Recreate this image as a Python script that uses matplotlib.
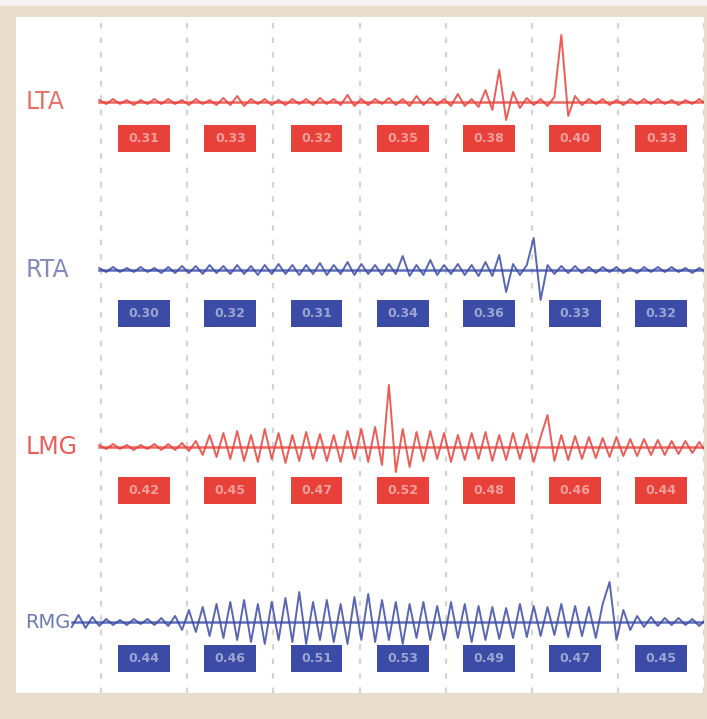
import numpy as np
import matplotlib
matplotlib.use("Agg")
import matplotlib.pyplot as plt
from matplotlib.patches import Rectangle

nan = np.nan

# muscle channels, top to bottom
channels = ["LTA", "RTA", "LMG", "RMG"]

# EMG samples (amplitude, up positive), one value every 0.08 grid cells from -0.9
lta = [nan] * 11 + [
    2, -2, 3, -2, 2, -3, 2, -2, 3, -2,
    3, -2, 2, -3, 3, -2, 2, -3, 4, -3,
    6, -4, 3, -2, 3, -3, 2, -3, 3, -2,
    3, -3, 4, -2, 3, -3, 7, -4, 3, -3,
    3, -2, 4, -3, 3, -4, 6, -3, 4, -3,
    3, -4, 8, -4, 3, -5, 12, -8, 32, -18,
    10, -6, 4, -3, 3, -4, 5, 67, -14, 6,
    -3, 3, -2, 3, -3, 2, -3, 3, -2, 3,
    -2, 3, -2, 2, -3, 2, -2, 3, -2]
rta = [nan] * 11 + [
    2, -2, 3, -2, 2, -2, 3, -2, 2, -3,
    3, -3, 4, -3, 4, -4, 5, -3, 4, -4,
    5, -4, 4, -5, 5, -4, 6, -4, 5, -5,
    5, -4, 7, -5, 5, -4, 8, -5, 6, -4,
    5, -5, 6, -4, 14, -6, 5, -5, 10, -5,
    5, -4, 6, -5, 5, -6, 8, -6, 15, -22,
    6, -5, 5, 32, -30, 5, -4, 4, -3, 4,
    -3, 3, -3, 3, -2, 3, -3, 2, -3, 3,
    -2, 3, -2, 3, -2, 2, -3, 2, -2]
lmg = [nan] * 11 + [
    2, -2, 3, -2, 2, -3, 2, -2, 3, -3,
    3, -3, 4, -4, 6, -8, 12, -10, 14, -12,
    16, -14, 12, -15, 18, -12, 14, -16, 12, -14,
    15, -12, 13, -14, 12, -15, 16, -12, 18, -15,
    20, -18, 62, -25, 18, -20, 15, -14, 16, -12,
    14, -15, 12, -13, 14, -12, 15, -14, 12, -13,
    14, -12, 13, -15, 10, 32, -14, 12, -13, 11,
    -12, 10, -11, 9, -10, 10, -9, 8, -9, 8,
    -8, 7, -8, 6, -7, 6, -6, 5, -5]
rmg = [nan] * 7 + [
    -5, 7, -6, 5,
    -4, 3, -3, 2, -3, 3, -2, 3, -3, 4,
    -4, 6, -8, 12, -10, 15, -14, 18, -16, 20,
    -18, 22, -20, 18, -22, 20, -18, 24, -20, 30,
    -22, 20, -18, 22, -20, 18, -22, 25, -18, 28,
    -20, 22, -18, 20, -22, 18, -16, 20, -18, 16,
    -18, 20, -16, 18, -20, 16, -18, 15, -17, 14,
    -16, 18, -15, 16, -14, 15, -13, 18, -15, 16,
    -14, 15, -16, 18, 40, -18, 12, -8, 6, -5,
    5, -4, 4, -3, 4, -3, 3, -4, 3]
signals = [lta, rta, lmg, rmg]

# values printed in the boxes under each trace (one per grid cell)
box_labels = [
    ["0.31", "0.33", "0.32", "0.35", "0.38", "0.40", "0.33"],
    ["0.30", "0.32", "0.31", "0.34", "0.36", "0.33", "0.32"],
    ["0.42", "0.45", "0.47", "0.52", "0.48", "0.46", "0.44"],
    ["0.44", "0.46", "0.51", "0.53", "0.49", "0.47", "0.45"],
]

red, blue = "#e8413a", "#3b4ba6"
trace_colors = [red, blue, red, blue]
label_colors = ["#e4574a", "#6f74b5", "#e8403a", "#5660aa"]
label_sizes = [17, 17, 17, 14]
baselines = [102, 270, 447, 622]
box_tops = [125, 300, 477, 645]
box_h = 27

t = -0.9 + 0.08 * np.arange(100)

fig = plt.figure(figsize=(7.07, 7.19), dpi=100)
fig.patch.set_facecolor("#e8ddcb")
fig.add_artist(Rectangle((0, 713 / 719), 1, 6 / 719, transform=fig.transFigure,
                         color="#f4f3f1", lw=0))

ax = fig.add_axes([16 / 707, 26 / 719, 688 / 707, 676 / 719])
ax.set_xlim((16 - 101) / 86.2, (704 - 101) / 86.2)
ax.set_ylim(693, 17)
ax.set_xticks([])
ax.set_yticks([])
for sp in ax.spines.values():
    sp.set_visible(False)
ax.set_facecolor("white")

for k in range(8):
    ax.axvline(k, color="#d4d4d4", lw=1.6, ls=(0, (2.5, 4)), zorder=0)

for i, name in enumerate(channels):
    y0 = baselines[i]
    sig = np.array(signals[i], dtype=float)
    y = y0 - sig
    first = t[~np.isnan(sig)][0]
    ax.plot(t, y, color=trace_colors[i], lw=1.4, alpha=0.85, zorder=2)
    ax.plot([first, t[-1]], [y0, y0], color=trace_colors[i], lw=1.8, alpha=0.8, zorder=2)
    ax.text(-0.88, y0, name, color=label_colors[i], fontsize=label_sizes[i],
            alpha=0.85, ha="left", va="center", zorder=3)
    for k, lab in enumerate(box_labels[i]):
        ax.add_patch(Rectangle((k + 0.2, box_tops[i]), 0.6, box_h,
                               facecolor=trace_colors[i], edgecolor="none", zorder=2))
        ax.text(k + 0.5, box_tops[i] + box_h / 2, lab, color="white", alpha=0.5,
                fontsize=9, fontweight="bold", ha="center", va="center", zorder=3)

fig.savefig("out.png", dpi=100, facecolor=fig.get_facecolor())
